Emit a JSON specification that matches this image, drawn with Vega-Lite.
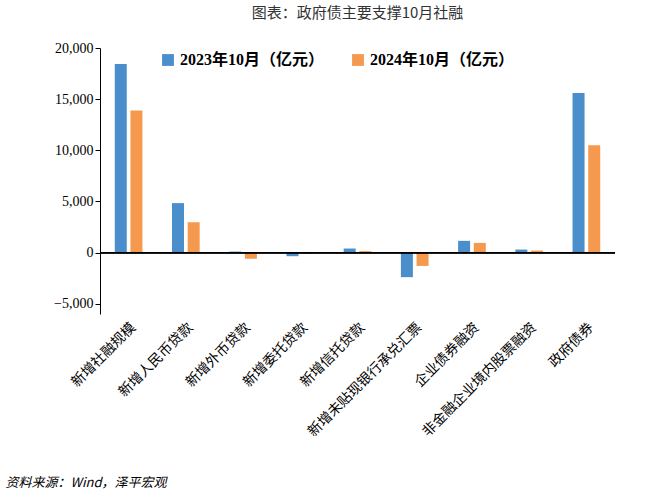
{
  "$schema": "https://vega.github.io/schema/vega-lite/v6.json",
  "width": 515,
  "height": 266,
  "autosize": {"type": "none"},
  "padding": {"left": 100, "top": 48, "right": 45, "bottom": 175},
  "background": "white",
  "config": {
    "view": {"stroke": null},
    "font": "Liberation Serif, Noto Sans CJK SC",
    "axis": {"labelFont": "Liberation Serif, Noto Sans CJK SC", "labelColor": "#000", "labelFontSize": 13}
  },
  "title": {"text": "图表：政府债主要支撑10月社融", "fontSize": 15, "fontWeight": "normal", "font": "Noto Sans CJK SC", "offset": 20, "color": "#333"},
  "data": {
    "values": [
      {"cat": "新增社融规模", "s": "2023年10月（亿元）", "v": 18441},
      {"cat": "新增社融规模", "s": "2024年10月（亿元）", "v": 13900},
      {"cat": "新增人民币贷款", "s": "2023年10月（亿元）", "v": 4837},
      {"cat": "新增人民币贷款", "s": "2024年10月（亿元）", "v": 2967},
      {"cat": "新增外币贷款", "s": "2023年10月（亿元）", "v": 100},
      {"cat": "新增外币贷款", "s": "2024年10月（亿元）", "v": -600},
      {"cat": "新增委托贷款", "s": "2023年10月（亿元）", "v": -350},
      {"cat": "新增委托贷款", "s": "2024年10月（亿元）", "v": -100},
      {"cat": "新增信托贷款", "s": "2023年10月（亿元）", "v": 400},
      {"cat": "新增信托贷款", "s": "2024年10月（亿元）", "v": 150},
      {"cat": "新增未贴现银行承兑汇票", "s": "2023年10月（亿元）", "v": -2400},
      {"cat": "新增未贴现银行承兑汇票", "s": "2024年10月（亿元）", "v": -1300},
      {"cat": "企业债券融资", "s": "2023年10月（亿元）", "v": 1150},
      {"cat": "企业债券融资", "s": "2024年10月（亿元）", "v": 950},
      {"cat": "非金融企业境内股票融资", "s": "2023年10月（亿元）", "v": 300},
      {"cat": "非金融企业境内股票融资", "s": "2024年10月（亿元）", "v": 200},
      {"cat": "政府债券", "s": "2023年10月（亿元）", "v": 15600},
      {"cat": "政府债券", "s": "2024年10月（亿元）", "v": 10500}
    ]
  },
  "layer": [
    {
      "mark": {"type": "bar", "width": 12},
      "encoding": {
        "x": {
          "field": "cat", "type": "nominal", "sort": null,
          "scale": {"paddingInner": 0.0, "paddingOuter": 0},
          "axis": {
            "labelAngle": -45, "labelFontSize": 14, "labelFont": "Noto Sans CJK SC", "domain": false, "ticks": false, "labelPadding": 6,
            "title": "资料来源：Wind，泽平宏观", "titleFont": "Noto Sans CJK SC", "titleFontStyle": "italic", "titleFontWeight": "normal",
            "titleFontSize": 13, "titleAnchor": "start", "titleAlign": "left", "titleX": -95, "titleY": 162
          }
        },
        "xOffset": {"field": "s", "type": "nominal", "scale": {"paddingInner": 0.35, "paddingOuter": 1.1}},
        "y": {
          "field": "v", "type": "quantitative",
          "scale": {"domain": [-5000, 20000]},
          "axis": {"values": [-5000, 0, 5000, 10000, 15000, 20000], "format": ",.0f", "grid": false, "title": null, "domainColor": "#000", "tickColor": "#000", "labelFontSize": 14}
        },
        "color": {
          "field": "s", "type": "nominal",
          "scale": {"range": ["#4a8ecb", "#f5994f"]},
          "legend": {
            "title": null, "orient": "none", "legendX": 60, "legendY": 4, "direction": "horizontal",
            "symbolType": "square", "symbolSize": 140, "labelFontSize": 16, "labelFontWeight": "bold",
            "labelFont": "Liberation Serif, Noto Sans CJK SC", "columnPadding": 25, "labelLimit": 300
          }
        }
      }
    },
    {
      "mark": {"type": "rule", "color": "#000"},
      "encoding": {"y": {"datum": 0}}
    }
  ]
}
